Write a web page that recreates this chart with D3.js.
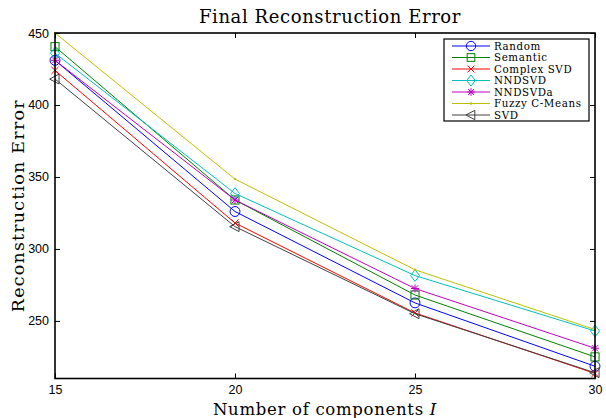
<!DOCTYPE html>
<html><head><meta charset="utf-8">
<script src="https://cdn.jsdelivr.net/npm/d3@7"></script>
<style>body{margin:0;background:#fff}svg{display:block}</style>
</head><body>
<svg id="c" width="606" height="418"></svg>
<script>
const components = [15, 20, 25, 30];
const seriesNames = ["Random", "Semantic", "Complex SVD", "NNDSVD", "NNDSVDa", "Fuzzy C-Means", "SVD"];
const randomVals   = [431, 326, 262.5, 218.5];
const semanticVals = [440.5, 334, 268, 225];
const complexVals  = [424, 318, 255.5, 213.5];
const nndsvdVals   = [436, 338.5, 281.5, 243];
const nndsvdaVals  = [431, 334, 272.5, 231];
const fuzzyVals    = [450, 348.5, 285.5, 244];
const svdVals      = [418, 315.5, 255, 214];
const xTicks = [15, 20, 25, 30];
const yTicks = [250, 300, 350, 400, 450];

const colors = ["#0000ff", "#008000", "#ff0000", "#00bfbf", "#bf00bf", "#bfbf00", "#404040"];
const markers = ["circle", "square", "x", "diamond", "star", "dot", "triangle"];
const allVals = [randomVals, semanticVals, complexVals, nndsvdVals, nndsvdaVals, fuzzyVals, svdVals];

const svg = d3.select("#c");
const L = 55, R = 595, T = 33, B = 378.5;
const x = d3.scaleLinear().domain([15, 30]).range([L, R]);
const y = d3.scaleLinear().domain([210, 450]).range([B, T]);

const serif = "DejaVu Serif";
svg.append("text").attr("x", 330).attr("y", 23).attr("text-anchor", "middle")
  .attr("font-family", serif).attr("font-size", 18).attr("letter-spacing", 0.6)
  .text("Final Reconstruction Error");
svg.append("text").attr("x", 325).attr("y", 415).attr("text-anchor", "middle")
  .attr("font-family", serif).attr("font-size", 16.5).attr("letter-spacing", 0.7)
  .html('Number of components <tspan font-style="italic">I</tspan>');
svg.append("text").attr("transform", `translate(24,${(T + B) / 2}) rotate(-90)`).attr("text-anchor", "middle")
  .attr("font-family", serif).attr("font-size", 17.5).attr("letter-spacing", 1.2)
  .text("Reconstruction Error");

const tickFont = "Liberation Sans";
const gx = svg.append("g").attr("transform", `translate(0,${B})`)
  .call(d3.axisBottom(x).tickValues(xTicks).tickSize(-5).tickPadding(7).tickFormat(d3.format("d")));
const gxt = svg.append("g").attr("transform", `translate(0,${T})`)
  .call(d3.axisTop(x).tickValues(xTicks).tickSize(-5).tickFormat(""));
const gy = svg.append("g").attr("transform", `translate(${L},0)`)
  .call(d3.axisLeft(y).tickValues(yTicks).tickSize(-5).tickPadding(6).tickFormat(d3.format("d")));
const gyr = svg.append("g").attr("transform", `translate(${R},0)`)
  .call(d3.axisRight(y).tickValues(yTicks).tickSize(-5).tickFormat(""));
[gx, gxt, gy, gyr].forEach(g => {
  g.select(".domain").remove();
  g.selectAll(".tick line").attr("stroke", "#000").attr("stroke-width", 1);
  g.selectAll("text").attr("font-family", tickFont).attr("font-size", 12.5).attr("fill", "#000");
});

const line = d3.line().x((d, i) => x(components[i])).y(d => y(d));
function drawMarker(g, type, cx, cy, color, s) {
  const st = { fill: "none", stroke: color, "stroke-width": 1 };
  let el;
  if (type === "circle") el = g.append("circle").attr("cx", cx).attr("cy", cy).attr("r", s * 0.55);
  else if (type === "square") el = g.append("rect").attr("x", cx - s * 0.45).attr("y", cy - s * 0.45).attr("width", s * 0.9).attr("height", s * 0.9);
  else if (type === "diamond") el = g.append("path").attr("d", `M${cx},${cy - s * 0.65}L${cx + s * 0.5},${cy}L${cx},${cy + s * 0.65}L${cx - s * 0.5},${cy}Z`);
  else if (type === "x") el = g.append("path").attr("d", `M${cx - s * 0.4},${cy - s * 0.4}L${cx + s * 0.4},${cy + s * 0.4}M${cx - s * 0.4},${cy + s * 0.4}L${cx + s * 0.4},${cy - s * 0.4}`);
  else if (type === "star") el = g.append("path").attr("d", `M${cx - s * 0.45},${cy}L${cx + s * 0.45},${cy}M${cx},${cy - s * 0.45}L${cx},${cy + s * 0.45}M${cx - s * 0.35},${cy - s * 0.35}L${cx + s * 0.35},${cy + s * 0.35}M${cx - s * 0.35},${cy + s * 0.35}L${cx + s * 0.35},${cy - s * 0.35}`);
  else if (type === "triangle") el = g.append("path").attr("d", `M${cx - s * 0.6},${cy}L${cx + s * 0.45},${cy - s * 0.55}L${cx + s * 0.45},${cy + s * 0.55}Z`);
  else if (type === "dot") { el = g.append("circle").attr("cx", cx).attr("cy", cy).attr("r", 1.2); st.fill = color; st.stroke = "none"; }
  Object.entries(st).forEach(([k, v]) => el.attr(k, v));
}
const plot = svg.append("g");
allVals.forEach((vals, si) => {
  plot.append("path").datum(vals).attr("d", line).attr("fill", "none")
    .attr("stroke", colors[si]).attr("stroke-width", 1);
  vals.forEach((v, i) => drawMarker(plot, markers[si], x(components[i]), y(v), colors[si], 9));
});

svg.append("rect").attr("x", L).attr("y", T).attr("width", R - L).attr("height", B - T)
  .attr("fill", "none").attr("stroke", "#000").attr("stroke-width", 1.6);

const lg = svg.append("g");
lg.append("rect").attr("x", 444).attr("y", 39).attr("width", 145).attr("height", 82)
  .attr("fill", "#fff").attr("stroke", "#000").attr("stroke-width", 1.2);
seriesNames.forEach((name, i) => {
  const yy = 46 + i * 11.5;
  lg.append("line").attr("x1", 452).attr("x2", 490).attr("y1", yy).attr("y2", yy)
    .attr("stroke", colors[i]).attr("stroke-width", 1);
  drawMarker(lg, markers[i], 471, yy, colors[i], 8.5);
  lg.append("text").attr("x", 494).attr("y", yy + 3.8).attr("font-family", serif)
    .attr("font-size", 10.3).attr("letter-spacing", 0.6).text(name);
});
</script>
</body></html>
